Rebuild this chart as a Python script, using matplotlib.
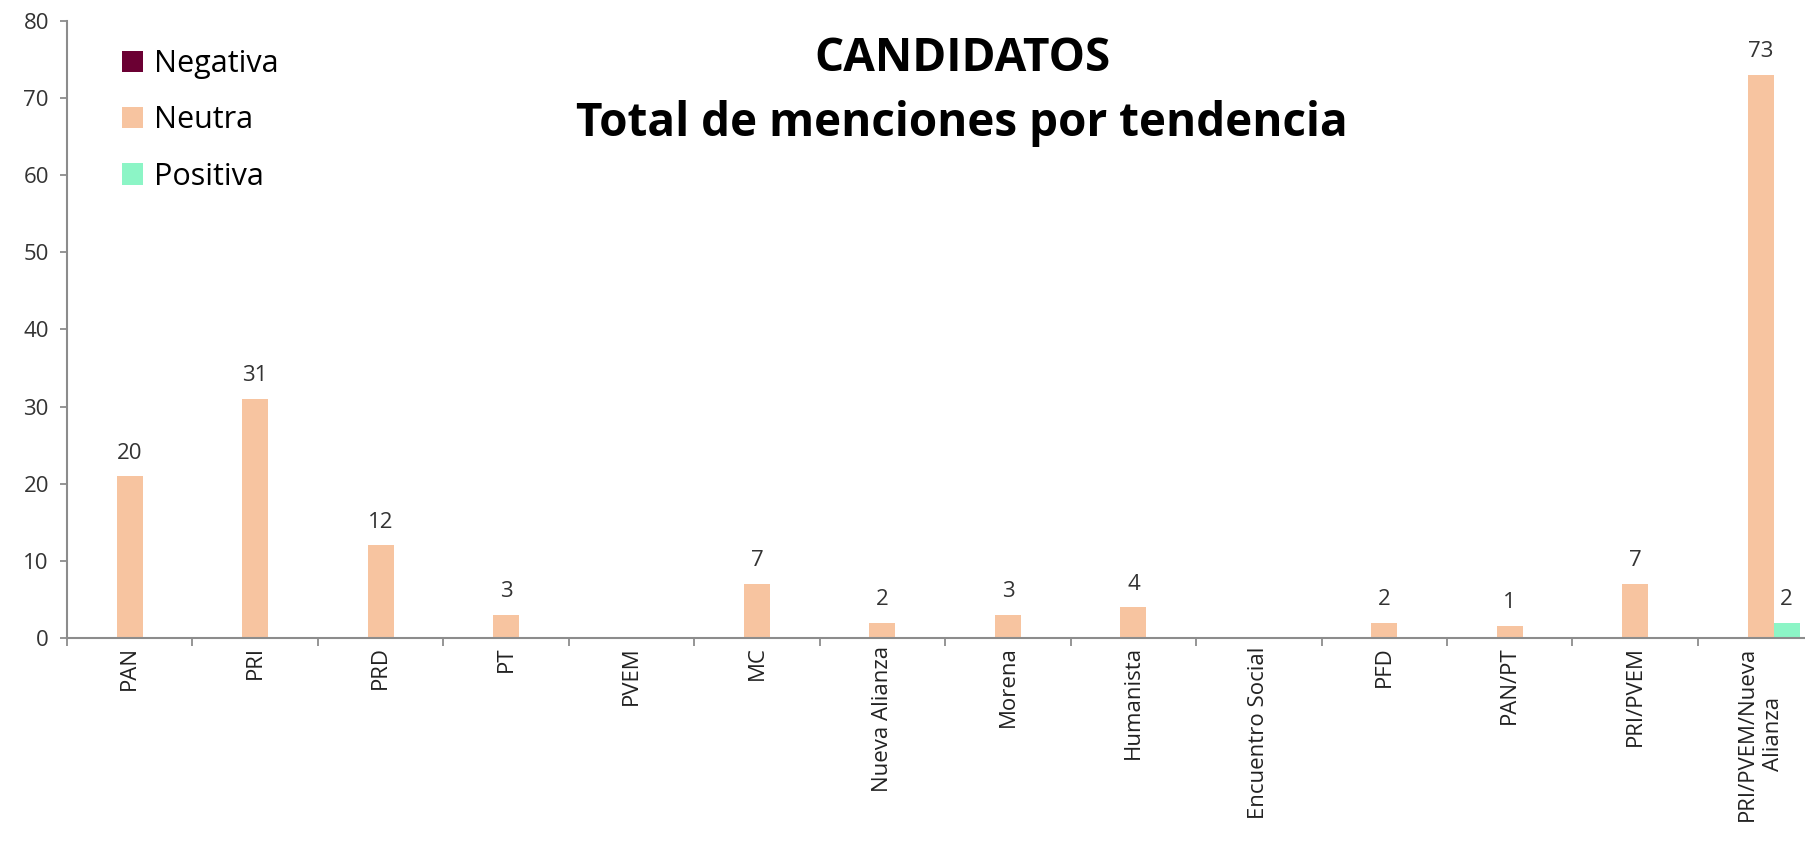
import numpy as np
import matplotlib
matplotlib.use("Agg")
import matplotlib.pyplot as plt

plt.rcParams["font.family"] = ["Open Sans", "DejaVu Sans"]

categorias = ["PAN", "PRI", "PRD", "PT", "PVEM", "MC", "Nueva Alianza", "Morena",
              "Humanista", "Encuentro Social", "PFD", "PAN/PT", "PRI/PVEM",
              "PRI/PVEM/Nueva\nAlianza"]
negativa = [0, 0, 0, 0, 0, 0, 0, 0, 0, 0, 0, 0, 0, 0]
neutra = [21, 31, 12, 3, 0, 7, 2, 3, 4, 0, 2, 1.6, 7, 73]
positiva = [0, 0, 0, 0, 0, 0, 0, 0, 0, 0, 0, 0, 0, 2]
# etiquetas tal como aparecen en la grafica
neutra_txt = ["20", "31", "12", "3", "", "7", "2", "3", "4", "", "2", "1", "7", "73"]
positiva_txt = ["", "", "", "", "", "", "", "", "", "", "", "", "", "2"]

col_neg = "#6B0033"
col_neu = "#F7C4A0"
col_pos = "#8CF5C6"

fig = plt.figure(figsize=(18.05, 8.59), dpi=100)
ax = fig.add_axes([0.0371, 0.2573, 0.9731, 0.7183])

x = np.arange(len(categorias))
w = 0.207
ax.bar(x - w, negativa, w, color=col_neg, label="Negativa")
b_neu = ax.bar(x, neutra, w, color=col_neu, label="Neutra")
b_pos = ax.bar(x + w, positiva, w, color=col_pos, label="Positiva")

for barras, textos in [(b_neu, neutra_txt), (b_pos, positiva_txt)]:
    for rect, t in zip(barras, textos):
        if t:
            ax.annotate(t, (rect.get_x() + rect.get_width() / 2, rect.get_height()),
                        xytext=(0, 9), textcoords="offset points", ha="center",
                        va="bottom", fontsize=16, color="#333333")

ax.set_xlim(-0.5, len(categorias) - 0.5)
ax.set_ylim(0, 80)
ax.set_yticks(range(0, 81, 10))
ax.set_xticks(x)
ax.set_xticklabels(categorias, rotation=90, fontsize=16, va="top", ha="center",
                   linespacing=1.35, multialignment="center")
ax.set_xticks(np.arange(-0.5, len(categorias), 1), minor=True)
ax.tick_params(axis="x", which="major", length=0, pad=6, colors="#222222")
ax.tick_params(axis="x", which="minor", length=6, width=1.3, color="#8c8c8c")
ax.tick_params(axis="y", length=5, width=1.3, color="#8c8c8c", pad=8,
               labelsize=16, labelcolor="#333333")

for s in ["top", "right"]:
    ax.spines[s].set_visible(False)
for s in ["left", "bottom"]:
    ax.spines[s].set_color("#8c8c8c")
    ax.spines[s].set_linewidth(1.5)

ax.legend(loc="upper left", bbox_to_anchor=(122 / 1805, 1 - 49 / 859),
          bbox_transform=fig.transFigure, frameon=False, borderpad=0,
          borderaxespad=0, fontsize=22, handlelength=0.7, handleheight=0.7,
          labelspacing=0.86, handletextpad=0.35)

fig.text(0.533, 0.894, "CANDIDATOS\nTotal de menciones por tendencia",
         ha="center", va="center", fontsize=33, fontweight="bold",
         linespacing=1.5, color="black")

fig.savefig("out.png", dpi=100)
